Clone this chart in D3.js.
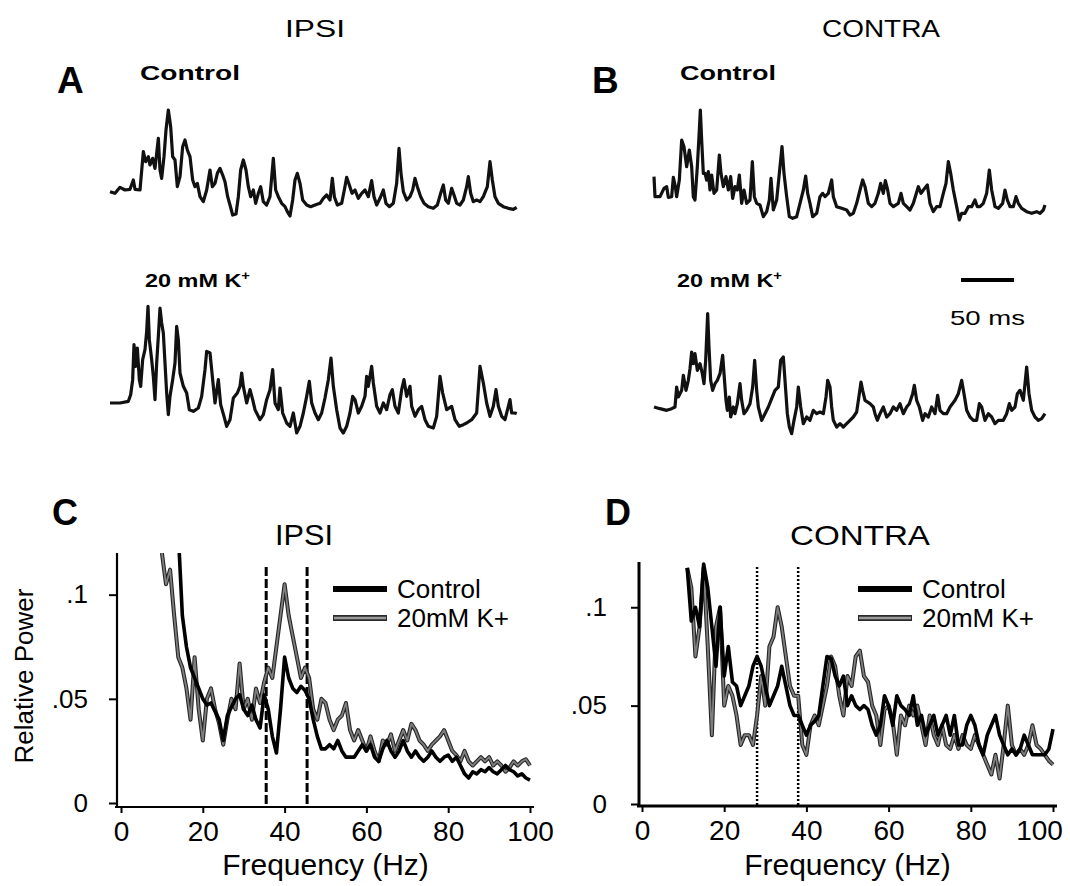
<!DOCTYPE html>
<html lang="en">
  <head>
    <meta charset="utf-8" />
    <title>IPSI / CONTRA field potentials</title>
    <script src="https://d3js.org/d3.v7.min.js"></script>
    <style>
      body { margin: 0; background: #fff; }
      text { font-family: "Liberation Sans", Arial, sans-serif; fill: #000; }
    </style>
  </head>
  <body>
    <script>
      // ---- raw traces: [sample index, amplitude (a.u.)], sampled 159 samples / 50 ms
      var SAMPLE_MS = 50 / 159;

      var ipsiControlTrace = [
        [0,73],[15,68],[30,86],[45,78],[60,80],[70,108],[75,80],[90,78],[100,193],[107,163],
        [115,178],[120,153],[128,173],[135,143],[145,233],[150,138],[155,113],[162,178],[168,258],[175,318],
        [182,268],[188,178],[195,168],[202,88],[210,118],[218,208],[225,228],[232,198],[240,178],[248,108],
        [255,88],[262,98],[270,58],[280,43],[290,78],[300,138],[307,88],[315,98],[322,128],[330,143],
        [338,123],[345,103],[353,58],[360,33],[368,3],[378,6],[385,58],[392,138],[400,168],[408,138],
        [415,88],[422,58],[430,78],[437,38],[445,68],[452,88],[460,43],[470,33],[480,58],[490,173],
        [497,78],[505,58],[515,38],[525,28],[532,13],[540,0],[548,48],[555,108],[562,128],[570,98],
        [578,48],[590,33],[602,28],[615,33],[630,38],[640,53],[650,63],[660,48],[667,113],[673,58],
        [682,33],[695,38],[703,78],[710,116],[718,93],[726,68],[735,78],[745,53],[755,68],[765,78],
        [775,58],[785,106],[792,58],[800,33],[810,53],[820,78],[828,38],[838,28],[850,38],[860,98],
        [867,203],[873,128],[880,73],[890,48],[900,58],[908,78],[915,113],[922,88],[932,58],[942,38],
        [955,28],[970,23],[982,33],[992,68],[1000,93],[1007,48],[1015,38],[1025,83],[1032,63],[1040,38],
        [1050,33],[1060,48],[1070,88],[1075,118],[1082,68],[1090,43],[1100,48],[1110,43],[1120,58],[1132,88],
        [1140,163],[1147,108],[1155,58],[1165,38],[1180,28],[1195,23],[1210,20],[1220,26]
      ];

      var ipsiKTrace = [
        [0,90],[30,90],[55,95],[62,115],[68,160],[72,265],[77,200],[82,255],[88,160],[92,140],
        [98,220],[105,250],[110,305],[114,380],[118,280],[125,220],[130,170],[135,100],[140,210],[145,290],
        [150,375],[155,330],[160,300],[165,210],[170,120],[175,55],[180,110],[188,160],[195,210],[200,320],
        [205,280],[210,180],[220,140],[230,120],[238,70],[250,65],[265,75],[275,110],[285,190],[290,245],
        [300,240],[305,190],[315,90],[325,160],[332,85],[342,50],[350,20],[360,40],[370,105],[382,120],
        [390,140],[395,180],[400,140],[410,90],[420,130],[428,100],[435,70],[450,40],[460,55],[470,100],
        [480,130],[488,190],[495,90],[505,70],[510,135],[518,60],[530,30],[540,20],[550,60],[560,0],
        [570,20],[580,60],[590,110],[598,155],[605,90],[615,60],[625,40],[635,60],[645,105],[655,160],
        [663,225],[670,140],[680,70],[690,15],[700,0],[710,20],[720,60],[728,110],[735,100],[745,60],
        [755,80],[765,110],[770,170],[775,140],[785,200],[790,150],[800,80],[810,60],[820,90],[830,70],
        [840,115],[847,130],[855,80],[865,60],[875,130],[882,160],[890,110],[900,140],[905,80],[915,50],
        [925,70],[935,80],[945,40],[955,20],[970,15],[980,50],[990,170],[998,120],[1010,70],[1025,80],
        [1035,40],[1048,20],[1060,25],[1070,30],[1085,40],[1100,60],[1110,200],[1120,150],[1130,90],[1140,50],
        [1150,80],[1158,130],[1165,80],[1175,50],[1185,40],[1195,80],[1200,100],[1205,60],[1215,60],[1220,58]
      ];

      var contraControlTrace = [
        [0,130],[3,70],[18,70],[30,95],[38,100],[43,68],[53,70],[58,128],[64,100],[68,70],
        [76,120],[83,240],[90,220],[98,160],[106,210],[113,160],[118,70],[123,60],[130,160],[136,270],
        [139,330],[143,240],[148,140],[153,140],[158,120],[163,145],[168,90],[173,135],[180,80],[188,90],
        [196,195],[201,140],[208,100],[216,130],[223,90],[230,130],[236,65],[243,100],[250,90],[256,135],
        [263,50],[270,90],[278,50],[288,60],[295,175],[301,70],[308,50],[318,45],[328,10],[338,25],
        [346,60],[351,125],[358,30],[368,60],[378,160],[384,220],[390,140],[398,70],[406,10],[416,5],
        [428,10],[438,50],[448,90],[455,132],[461,80],[468,50],[476,10],[488,20],[498,70],[506,80],
        [513,70],[523,80],[533,120],[538,70],[548,40],[563,35],[578,30],[588,15],[598,20],[608,50],
        [618,90],[626,120],[633,100],[643,50],[653,40],[663,50],[673,80],[680,110],[688,80],[694,118],
        [701,90],[708,50],[718,40],[733,50],[741,80],[748,50],[758,40],[768,30],[778,50],[793,100],
        [801,80],[808,90],[820,105],[828,50],[838,25],[848,40],[858,40],[868,80],[876,110],[883,175],
        [890,140],[898,90],[908,40],[916,0],[923,20],[933,20],[943,40],[953,40],[963,60],[970,40],
        [978,40],[988,50],[998,80],[1006,150],[1013,90],[1023,40],[1033,35],[1046,50],[1053,90],[1060,60],
        [1068,40],[1078,40],[1086,70],[1093,50],[1103,35],[1118,25],[1133,20],[1148,25],[1158,20],[1168,30],
        [1173,45]
      ];

      var contraKTrace = [
        [0,90],[18,85],[38,80],[53,85],[63,90],[68,150],[73,120],[83,140],[88,185],[96,140],
        [103,170],[108,205],[113,255],[118,220],[123,250],[130,200],[138,220],[145,190],[150,160],[155,230],
        [161,370],[165,270],[170,170],[176,140],[183,160],[190,170],[198,190],[206,245],[210,190],[216,110],
        [220,80],[226,120],[230,60],[238,90],[243,70],[250,100],[258,160],[263,110],[270,70],[278,80],
        [288,100],[296,150],[302,230],[308,140],[313,90],[323,50],[333,70],[343,90],[353,115],[363,140],
        [373,150],[380,230],[388,240],[393,170],[400,70],[406,30],[413,10],[420,50],[428,90],[433,150],
        [440,90],[448,40],[458,60],[468,50],[478,80],[488,70],[498,75],[508,70],[516,120],[521,170],
        [528,150],[533,90],[538,50],[548,30],[558,40],[568,30],[578,40],[588,50],[598,60],[608,75],
        [616,130],[621,165],[626,140],[633,110],[648,100],[658,90],[663,70],[670,50],[678,70],[688,90],
        [698,60],[708,70],[718,90],[728,80],[738,100],[748,70],[758,90],[766,100],[776,130],[781,155],
        [788,110],[796,90],[806,50],[813,70],[823,60],[833,90],[843,70],[851,125],[858,80],[868,70],
        [878,70],[888,90],[903,110],[913,130],[923,170],[930,130],[938,80],[948,60],[958,50],[968,50],
        [976,100],[983,90],[993,50],[1003,70],[1013,60],[1023,40],[1033,50],[1048,50],[1058,70],[1066,100],
        [1073,80],[1083,90],[1090,130],[1098,140],[1108,110],[1118,210],[1125,130],[1133,80],[1143,60],[1153,50],
        [1163,55],[1173,70]
      ];

      // ---- power spectra, 1 Hz bins
      var ipsiCtrlStartHz = 14;
      var ipsiCtrlPower = [
        .13,.09,.075,.065,.06,.055,.05,.047,.048,.044,.04,.03,.042,.046,.05,.052,.045,.042,.047,.04,
        .036,.052,.045,.032,.024,.045,.07,.06,.055,.053,.056,.054,.05,.04,.032,.026,.026,.028,.026,.03,
        .025,.022,.022,.022,.025,.028,.025,.028,.022,.02,.026,.03,.025,.022,.025,.03,.025,.022,.025,.022,
        .02,.022,.025,.022,.02,.022,.023,.02,.022,.018,.014,.012,.015,.014,.016,.015,.017,.015,.014,.016,
        .018,.016,.015,.013,.014,.012,.011
      ];
      var ipsiKStartHz = 10;
      var ipsiKPower = [
        .12,.105,.112,.09,.07,.065,.055,.04,.07,.045,.03,.05,.055,.045,.038,.028,.04,.05,.045,.067,
        .045,.05,.04,.055,.048,.058,.065,.06,.075,.09,.105,.09,.08,.07,.06,.065,.06,.045,.04,.05,
        .048,.04,.035,.04,.042,.048,.035,.03,.035,.03,.025,.032,.025,.02,.03,.028,.033,.025,.03,.035,
        .03,.038,.035,.03,.028,.025,.028,.03,.032,.035,.03,.025,.023,.02,.025,.02,.018,.02,.022,.02,
        .022,.018,.02,.018,.015,.017,.02,.018,.02,.021,.018
      ];
      var contraCtrlStartHz = 11;
      var contraCtrlPower = [
        .12,.093,.1,.09,.122,.11,.09,.07,.1,.065,.08,.062,.06,.05,.055,.06,.07,.075,.07,.06,
        .05,.055,.06,.07,.06,.05,.045,.045,.04,.035,.04,.042,.045,.06,.075,.074,.065,.06,.065,.05,
        .055,.05,.048,.05,.048,.04,.035,.04,.055,.05,.04,.055,.05,.048,.045,.055,.04,.045,.035,.04,
        .045,.035,.04,.045,.035,.045,.03,.03,.04,.045,.04,.03,.025,.035,.04,.045,.035,.03,.025,.028,
        .025,.028,.035,.03,.025,.025,.025,.025,.028,.038
      ];
      var contraKStartHz = 11;
      var contraKPower = [
        .12,.11,.075,.09,.12,.08,.035,.09,.1,.05,.06,.055,.045,.03,.035,.035,.03,.045,.065,.05,
        .08,.085,.1,.09,.075,.06,.055,.055,.03,.025,.04,.045,.04,.05,.06,.075,.07,.055,.045,.065,
        .06,.075,.078,.065,.062,.05,.045,.03,.048,.05,.042,.025,.045,.04,.05,.045,.05,.04,.03,.045,
        .035,.03,.04,.03,.028,.035,.028,.035,.03,.028,.035,.03,.025,.02,.015,.025,.013,.03,.05,.03,
        .025,.028,.025,.03,.04,.03,.028,.025,.022,.02
      ];

      var ipsiBandHz = [35.5, 45.5];
      var contraBandHz = [28, 38];
      var freqTicks = [0, 20, 40, 60, 80, 100];
      var powerTicks = [0, 0.05, 0.1];
      var powerTickLabels = ["0", ".05", ".1"];
      var seriesNames = ["Control", "20mM K+"];

      var svg = d3
        .select("body")
        .append("svg")
        .attr("width", 1070)
        .attr("height", 886);

      function toSeries(start, values) {
        return values.map(function (v, i) {
          return [start + i, v];
        });
      }

      // stretched label helper (the figure lettering is wider than the font)
      function label(x, y, str, size, weight, len) {
        var t = svg
          .append("text")
          .attr("x", x)
          .attr("y", y)
          .style("font-size", size + "px")
          .style("font-weight", weight || "normal")
          .text(str);
        if (len) t.attr("textLength", len).attr("lengthAdjust", "spacingAndGlyphs");
        return t;
      }
      function kLabel(x, y, len) {
        var t = svg
          .append("text")
          .attr("x", x)
          .attr("y", y)
          .style("font-size", "19px")
          .style("font-weight", "bold")
          .attr("textLength", len)
          .attr("lengthAdjust", "spacingAndGlyphs");
        t.append("tspan").text("20 mM K");
        t.append("tspan").attr("dy", -7).style("font-size", "12px").text("+");
      }

      // ---- top: raw traces
      label(285, 37, "IPSI", 23, "normal", 60);
      label(822, 37, "CONTRA", 23, "normal", 118);
      label(57, 93, "A", 37, "bold");
      label(592, 93, "B", 37, "bold");
      label(140, 80, "Control", 21, "bold", 100);
      label(680, 80, "Control", 21, "bold", 96);
      kLabel(145, 287, 105);
      kLabel(677, 287, 105);

      function drawTrace(data, x0, y0) {
        var xT = d3.scaleLinear().domain([0, 50]).range([x0, x0 + 53]);
        var yT = d3.scaleLinear().domain([0, 300]).range([y0, y0 - 100]);
        var line = d3
          .line()
          .x(function (d) { return xT(d[0] * SAMPLE_MS); })
          .y(function (d) { return yT(d[1]); });
        svg
          .append("path")
          .datum(data)
          .attr("d", line)
          .attr("fill", "none")
          .attr("stroke", "#111")
          .attr("stroke-width", 3.2)
          .attr("stroke-linejoin", "round");
        return xT;
      }

      drawTrace(ipsiControlTrace, 110, 216);
      drawTrace(ipsiKTrace, 110, 433);
      drawTrace(contraControlTrace, 654, 220);
      var xScaleBar = drawTrace(contraKTrace, 654, 437);

      // 50 ms scale bar
      var barLen = xScaleBar(50) - xScaleBar(0);
      svg
        .append("line")
        .attr("x1", 961)
        .attr("x2", 961 + barLen)
        .attr("y1", 280)
        .attr("y2", 280)
        .attr("stroke", "#000")
        .attr("stroke-width", 4);
      label(950, 325, "50 ms", 21, "normal", 75);

      // ---- bottom: spectra
      function drawSpectrum(opt) {
        var x = d3.scaleLinear().domain([0, 100]).range(opt.xRange);
        var y = d3.scaleLinear().domain([0, opt.yMax]).range(opt.yRange);
        var g = svg.append("g");

        label(opt.letterX, 525, opt.letter, 36, "bold");
        label(opt.titleX, 545, opt.title, opt.titleSize, "normal", opt.titleLen);

        // y axis
        var yAxis = d3
          .axisLeft(y)
          .tickValues(powerTicks)
          .tickFormat(function (d, i) { return powerTickLabels[i]; })
          .tickSize(8)
          .tickSizeOuter(0)
          .tickPadding(opt.yPad);
        var ya = g
          .append("g")
          .attr("transform", "translate(" + opt.yAxisX + ",0)")
          .call(yAxis);
        ya.select(".domain").remove();
        ya.selectAll("line").attr("stroke", "#000").attr("stroke-width", 2);
        ya.selectAll("text")
          .style("font-size", "26px")
          .style("font-family", "'Liberation Sans', Arial, sans-serif");
        g.append("line")
          .attr("x1", opt.yAxisX)
          .attr("x2", opt.yAxisX)
          .attr("y1", y(opt.yMax))
          .attr("y2", opt.xAxisY + 1)
          .attr("stroke", "#000")
          .attr("stroke-width", opt.axisW);

        // x axis
        var xAxis = d3
          .axisBottom(x)
          .tickValues(freqTicks)
          .tickSize(6)
          .tickSizeOuter(0)
          .tickPadding(8);
        var xa = g
          .append("g")
          .attr("transform", "translate(0," + opt.xAxisY + ")")
          .call(xAxis);
        xa.select(".domain").remove();
        xa.selectAll("line").attr("stroke", "#000").attr("stroke-width", 2);
        xa.selectAll("text")
          .style("font-size", "28px")
          .style("font-family", "'Liberation Sans', Arial, sans-serif")
          .attr("dx", function (d) { return d === 100 ? opt.lastDx : 0; });
        g.append("line")
          .attr("x1", opt.yAxisX - 2)
          .attr("x2", x(100) + 4)
          .attr("y1", opt.xAxisY)
          .attr("y2", opt.xAxisY)
          .attr("stroke", "#000")
          .attr("stroke-width", opt.axisW);

        svg
          .append("text")
          .attr("x", (x(0) + x(100)) / 2)
          .attr("y", 875)
          .attr("text-anchor", "middle")
          .style("font-size", "30px")
          .text("Frequency (Hz)");

        // band markers
        g.selectAll(".band")
          .data(opt.band)
          .enter()
          .append("line")
          .attr("x1", function (d) { return x(d); })
          .attr("x2", function (d) { return x(d); })
          .attr("y1", 567)
          .attr("y2", opt.xAxisY)
          .attr("stroke", "#000")
          .attr("stroke-width", opt.bandW)
          .attr("stroke-dasharray", opt.dash);

        var clipId = "clip" + opt.letter;
        svg
          .append("clipPath")
          .attr("id", clipId)
          .append("rect")
          .attr("x", opt.yAxisX)
          .attr("y", y(opt.yMax))
          .attr("width", x(100) - opt.yAxisX + 6)
          .attr("height", opt.xAxisY - y(opt.yMax));

        var line = d3
          .line()
          .x(function (d) { return x(d[0]); })
          .y(function (d) { return y(d[1]); });
        var plot = svg.append("g").attr("clip-path", "url(#" + clipId + ")");

        // 20 mM K+ : grey with dark edges, then control on top
        plot.append("path").datum(opt.kData).attr("d", line)
          .attr("fill", "none").attr("stroke", "#262626").attr("stroke-width", 4)
          .attr("stroke-linejoin", "round");
        plot.append("path").datum(opt.kData).attr("d", line)
          .attr("fill", "none").attr("stroke", "#7e7e7e").attr("stroke-width", 1.8)
          .attr("stroke-linejoin", "round");
        plot.append("path").datum(opt.ctrlData).attr("d", line)
          .attr("fill", "none").attr("stroke", "#000").attr("stroke-width", 3.6)
          .attr("stroke-linejoin", "round");

        // legend
        var lg = svg.append("g");
        lg.selectAll(".lgText")
          .data(seriesNames)
          .enter()
          .append("text")
          .attr("x", opt.legX + 64)
          .attr("y", function (d, i) { return 598 + i * 29; })
          .style("font-size", "26px")
          .text(function (d) { return d; });
        lg.append("line")
          .attr("x1", opt.legX).attr("x2", opt.legX + 54)
          .attr("y1", 589).attr("y2", 589)
          .attr("stroke", "#000").attr("stroke-width", 6);
        lg.append("line")
          .attr("x1", opt.legX).attr("x2", opt.legX + 54)
          .attr("y1", 618).attr("y2", 618)
          .attr("stroke", "#2a2a2a").attr("stroke-width", 6);
        lg.append("line")
          .attr("x1", opt.legX + 1).attr("x2", opt.legX + 53)
          .attr("y1", 618).attr("y2", 618)
          .attr("stroke", "#9a9a9a").attr("stroke-width", 2.5);
      }

      drawSpectrum({
        letter: "C", letterX: 52,
        title: "IPSI", titleX: 275, titleSize: 30, titleLen: 58,
        xRange: [121, 530], yRange: [803, 553], yMax: 0.12,
        yAxisX: 117, xAxisY: 807, yPad: 21, axisW: 2.2,
        band: ipsiBandHz, bandW: 3, dash: "9,3", lastDx: 0,
        ctrlData: toSeries(ipsiCtrlStartHz, ipsiCtrlPower),
        kData: toSeries(ipsiKStartHz, ipsiKPower),
        legX: 333
      });

      drawSpectrum({
        letter: "D", letterX: 605,
        title: "CONTRA", titleX: 790, titleSize: 28, titleLen: 140,
        xRange: [642, 1053], yRange: [804, 562], yMax: 0.123,
        yAxisX: 639, xAxisY: 806, yPad: 24, axisW: 3,
        band: contraBandHz, bandW: 2.5, dash: "2,2", lastDx: -14,
        ctrlData: toSeries(contraCtrlStartHz, contraCtrlPower),
        kData: toSeries(contraKStartHz, contraKPower),
        legX: 858
      });

      // shared y-axis title
      svg
        .append("text")
        .attr("transform", "translate(33,676) rotate(-90)")
        .attr("text-anchor", "middle")
        .style("font-size", "26px")
        .text("Relative Power");
    </script>
  </body>
</html>
